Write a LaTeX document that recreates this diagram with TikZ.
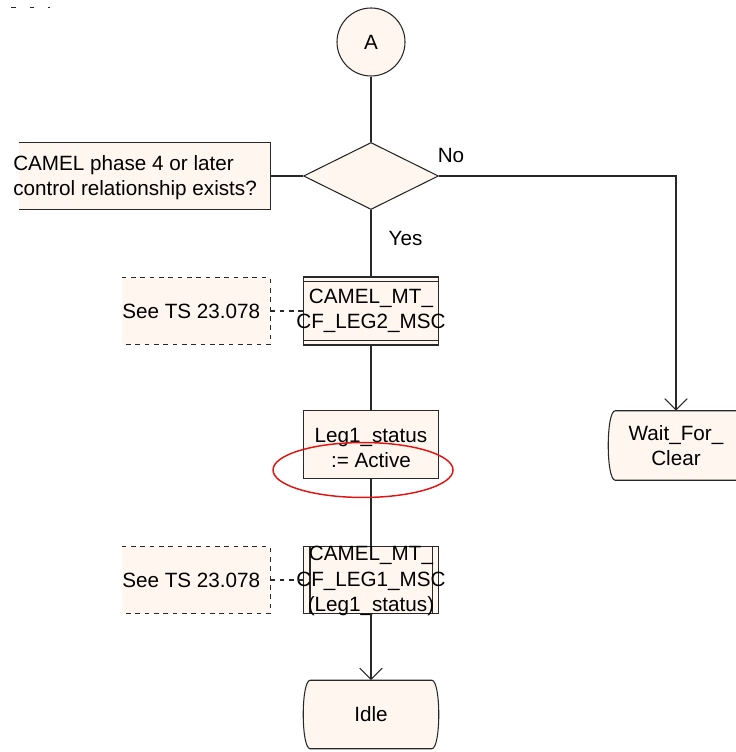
\documentclass[tikz,border=0pt]{standalone}
\usepackage{fontspec}
\setmainfont{Liberation Sans}
\usetikzlibrary{shapes.geometric,arrows.meta,backgrounds}

\definecolor{sdlfill}{RGB}{255,247,239}
\definecolor{sdlline}{RGB}{40,40,40}
\definecolor{markred}{RGB}{225,20,20}

\tikzset{
  every node/.style={font=\fontsize{15.5}{19}\selectfont, inner sep=0pt, align=center},
  flow/.style={draw=sdlline, line width=0.8pt},
  arrowflow/.style={flow, -{Straight Barb[length=8.5pt, width=17pt, line width=0.8pt]}},
  sdlsym/.style={draw=sdlline, line width=0.8pt, fill=sdlfill,
    minimum width=101.25pt, minimum height=51pt},
  taskbox/.style={sdlsym, rectangle},
  procbox/.style={sdlsym, rectangle},
  statebox/.style={rectangle, minimum width=101.25pt, minimum height=51pt},
  decision/.style={sdlsym, diamond, minimum height=50.25pt},
  connector/.style={draw=sdlline, line width=0.8pt, fill=sdlfill, circle, minimum size=51pt},
  notefill/.style={fill=sdlfill, rectangle},
  notedash/.style={draw=sdlline, line width=0.8pt, dash pattern=on 3.5pt off 3.5pt},
}

% SDL state outline: straight top and bottom, bulging sides
\newcommand\sdlstateoutline[1]{%
  \begin{scope}[on background layer]
    \draw[flow, fill=sdlfill]
      ([xshift=5.25pt]#1.north west) -- ([xshift=-5.25pt]#1.north east)
      .. controls ([xshift=1.75pt]#1.north east) and ([xshift=1.75pt]#1.south east)
      .. ([xshift=-5.25pt]#1.south east) -- ([xshift=5.25pt]#1.south west)
      .. controls ([xshift=-1.75pt]#1.south west) and ([xshift=-1.75pt]#1.north west)
      .. cycle;
  \end{scope}}

\begin{document}
\begin{tikzpicture}[x=0.75pt, y=-0.75pt]
  \useasboundingbox (0,0) rectangle (735,752);

  % stray dash fragments along the top edge
  \draw[sdlline, line width=0.8pt, dash pattern=on 3.5pt off 10.5pt] (11,7.5) -- (49.5,7.5);

  % connector and decision
  \node[connector] (A) at (371,42) {A};
  \node[decision] (dec) at (371,176) {};

  % question text attached to the decision
  \node[notefill, minimum width=188.25pt, minimum height=49.5pt] (qbox) at (144.5,176) {};
  \draw[flow] (qbox.north west) -- (qbox.north east) -- (qbox.south east) -- (qbox.south west);
  \node[anchor=west, align=left] (qtext) at (13,177.5)
    {CAMEL phase 4 or later\\control relationship exists?};

  % main column
  \node[procbox] (leg2) at (371,311) {};
  \draw[flow] ([yshift=-3.75pt]leg2.north west) -- ([yshift=-3.75pt]leg2.north east);
  \draw[flow] ([yshift=3.75pt]leg2.south west) -- ([yshift=3.75pt]leg2.south east);
  \node (leg2text) at (371,311) {CAMEL\_MT\_\\CF\_LEG2\_MSC};

  \node[taskbox] (task) at (371,444.5) {};
  \node (tasktext) at (371,448) {Leg1\_status\\:= Active};

  \node[procbox, minimum height=50.25pt] (leg1) at (371,580) {};
  \draw[flow] ([xshift=5.25pt]leg1.north west) -- ([xshift=5.25pt]leg1.south west);
  \draw[flow] ([xshift=-5.25pt]leg1.north east) -- ([xshift=-5.25pt]leg1.south east);
  \node (leg1text) at (371,581) {CAMEL\_MT\_\\CF\_LEG1\_MSC\\(Leg1\_status)};

  \node[statebox] (idle) at (371,714.5) {Idle};
  \sdlstateoutline{idle}
  \node[statebox, minimum height=51.75pt] (wait) at (676,445.5) {Wait\_For\_\\Clear};
  \sdlstateoutline{wait}

  % references to TS 23.078
  \node[notefill, minimum width=111pt, minimum height=49.5pt] (ref2) at (196,311) {};
  \draw[notedash] (ref2.north west) -- (ref2.north east) -- (ref2.south east) -- (ref2.south west);
  \node[anchor=west] (ref2text) at (122,311) {See TS 23.078};

  \node[notefill, minimum width=111pt, minimum height=49.5pt] (ref1) at (196,580) {};
  \draw[notedash] (ref1.north west) -- (ref1.north east) -- (ref1.south east) -- (ref1.south west);
  \node[anchor=west] (ref1text) at (122,580) {See TS 23.078};

  % flow lines
  \draw[flow] (A) -- (dec.north);
  \draw[flow] (qbox.east) -- (dec.west);
  \draw[flow] (dec.south) -- (leg2.north);
  \draw[flow] (leg2.south) -- (task.north);
  \draw[flow] (task.south) -- (leg1.north);
  \draw[arrowflow] (leg1.south) -- (idle.north);
  \draw[arrowflow] (dec.east) -| (wait.north);
  \draw[notedash] (ref2.east) -- (leg2.west);
  \draw[notedash] (ref1.east) -- (leg1.west);

  % branch labels
  \node (no) at (451,155.5) {No};
  \node (yes) at (405.5,238) {Yes};

  % highlight
  \draw[markred, line width=1.1pt] (363,470) ellipse [x radius=67.5pt, y radius=20.6pt];
\end{tikzpicture}
\end{document}
